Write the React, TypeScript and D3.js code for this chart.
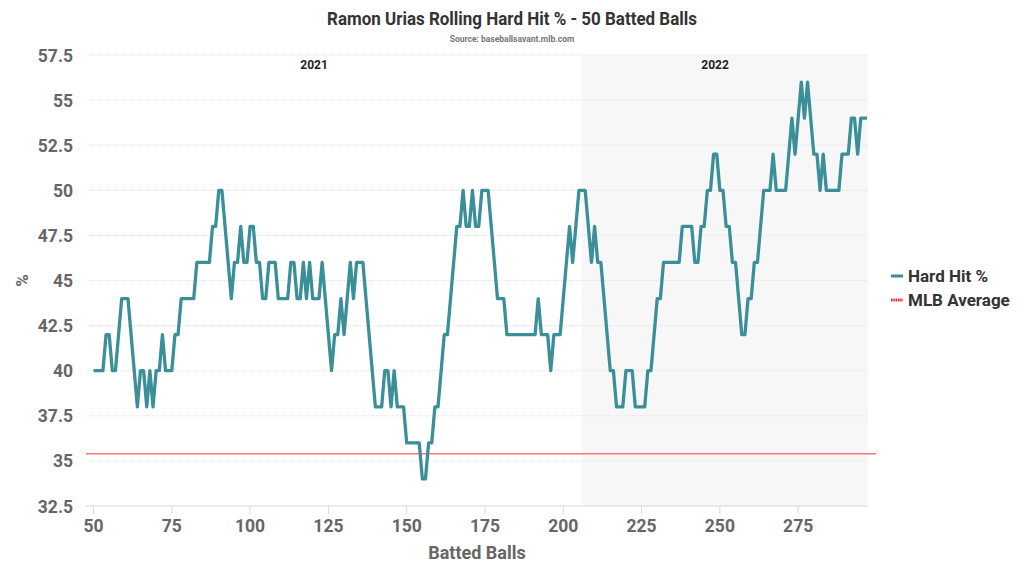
import * as d3 from "d3";

// vertices of the rolling 50-ball hard-hit line (batted ball #, %)
const battedBalls = [
  50, 53, 54, 55, 56, 57, 59, 61, 64, 65, 66, 67, 68, 69, 70, 71, 72, 73, 75, 76,
  77, 78, 82, 83, 87, 88, 89, 90, 91, 94, 95, 96, 97, 98, 99, 100, 101, 102, 103, 104,
  105, 106, 108, 109, 112, 113, 114, 115, 116, 117, 118, 119, 120, 122, 123, 126, 127, 128, 129, 130,
  132, 133, 134, 136, 140, 142, 143, 144, 145, 146, 147, 149, 150, 154, 155, 156, 157, 158, 159, 160,
  162, 163, 166, 167, 168, 169, 170, 171, 172, 173, 174, 176, 179, 181, 182, 191, 192, 193, 195, 196,
  197, 199, 202, 203, 205, 207, 209, 210, 211, 212, 215, 216, 217, 219, 220, 222, 223, 226, 227, 228,
  230, 231, 232, 237, 238, 241, 242, 243, 244, 245, 246, 247, 248, 249, 250, 251, 252, 253, 254, 255,
  257, 258, 259, 260, 261, 262, 264, 266, 267, 268, 271, 273, 274, 276, 277, 278, 280, 281, 282, 283,
  284, 288, 289, 291, 292, 293, 294, 295, 297,
];
const hardHitPct = [
  40, 40, 42, 42, 40, 40, 44, 44, 38, 40, 40, 38, 40, 38, 40, 40, 42, 40, 40, 42,
  42, 44, 44, 46, 46, 48, 48, 50, 50, 44, 46, 46, 48, 46, 46, 48, 48, 46, 46, 44,
  44, 46, 46, 44, 44, 46, 46, 44, 44, 46, 44, 46, 44, 44, 46, 40, 42, 42, 44, 42,
  46, 44, 46, 46, 38, 38, 40, 40, 38, 40, 38, 38, 36, 36, 34, 34, 36, 36, 38, 38,
  42, 42, 48, 48, 50, 48, 48, 50, 48, 48, 50, 50, 44, 44, 42, 42, 44, 42, 42, 40,
  42, 42, 48, 46, 50, 50, 46, 48, 46, 46, 40, 40, 38, 38, 40, 40, 38, 38, 40, 40,
  44, 44, 46, 46, 48, 48, 46, 46, 48, 48, 50, 50, 52, 52, 50, 50, 48, 48, 46, 46,
  42, 42, 44, 44, 46, 46, 50, 50, 52, 50, 50, 54, 52, 56, 54, 56, 52, 52, 50, 52,
  50, 50, 52, 52, 54, 54, 52, 54, 54,
];

const mlbAverage = 35.4;
const seasonStart2022 = 206;
const seasons = ["2021", "2022"];
const yTicks = [32.5, 35, 37.5, 40, 42.5, 45, 47.5, 50, 52.5, 55, 57.5];
const xTicks = [50, 75, 100, 125, 150, 175, 200, 225, 250, 275];
const legendItems = ["Hard Hit %", "MLB Average"];

const TEAL = "#3a8f98";
const RED = "#f47a7a";
const FONT = "Roboto, 'Noto Sans', sans-serif";

export default function App() {
  const width = 1024;
  const height = 576;
  const left = 86;
  const right = 868;
  const top = 55;
  const bottom = 506;

  const x = d3.scaleLinear().domain([47.6, 297.3]).range([left, right]);
  const y = d3.scaleLinear().domain([32.5, 57.5]).range([bottom, top]);

  const pts = battedBalls.map((b, i) => [b, hardHitPct[i]] as [number, number]);
  const line = d3
    .line<[number, number]>()
    .x((d) => x(d[0]))
    .y((d) => y(d[1]));

  const x2022 = x(seasonStart2022);

  return (
    <svg
      width={width}
      height={height}
      style={{ position: "absolute", left: 0, top: 0, background: "#fff" }}
      fontFamily={FONT}
    >
      {/* title */}
      <text x={512} y={25} textAnchor="middle" fontSize={17.5} fontWeight={700} fill="#333" textLength={370} lengthAdjust="spacingAndGlyphs">
        Ramon Urias Rolling Hard Hit % - 50 Batted Balls
      </text>
      <text x={512} y={42} textAnchor="middle" fontSize={8.5} fontWeight={700} fill="#777">
        Source: baseballsavant.mlb.com
      </text>

      {/* 2022 shading */}
      <rect x={x2022} y={top} width={right - x2022} height={bottom - top} fill="#f7f7f7" />

      {/* grid */}
      {yTicks.map((t) => (
        <line
          key={t}
          x1={left}
          x2={right}
          y1={y(t)}
          y2={y(t)}
          stroke={t === 32.5 ? "#d5dcdc" : "#e2e2e2"}
          strokeWidth={1}
          strokeDasharray={t === 32.5 ? undefined : "1 1"}
        />
      ))}

      {/* season labels */}
      {seasons.map((s, i) => {
        const cx = i === 0 ? (left + x2022) / 2 - 20 : (x2022 + right) / 2 - 10;
        return (
          <text key={s} x={cx} y={69} textAnchor="middle" fontSize={12} fontWeight={700} fill="#222">
            {s}
          </text>
        );
      })}

      {/* y ticks */}
      {yTicks.map((t) => (
        <text key={t} x={73} y={y(t) + 6.5} textAnchor="end" fontSize={17.5} fontWeight={700} fill="#666">
          {t}
        </text>
      ))}

      {/* x ticks */}
      {xTicks.map((t) => (
        <g key={t} transform={`translate(${x(t)},0)`}>
          <line y1={bottom} y2={bottom + 8} stroke="#d5dcdc" />
          <text y={bottom + 26} textAnchor="middle" fontSize={17.5} fontWeight={700} fill="#666">
            {t}
          </text>
        </g>
      ))}

      {/* axis titles */}
      <text x={(left + right) / 2} y={559} textAnchor="middle" fontSize={18} fontWeight={700} fill="#666">
        Batted Balls
      </text>
      <text transform={`translate(28,${(top + bottom) / 2}) rotate(-90)`} textAnchor="middle" fontSize={17} fontWeight={700} fill="#666">
        %
      </text>

      {/* MLB average */}
      <line x1={left} x2={right + 8} y1={y(mlbAverage)} y2={y(mlbAverage)} stroke={RED} strokeWidth={1.5} />

      {/* rolling line */}
      <path d={line(pts) ?? ""} fill="none" stroke={TEAL} strokeWidth={3.3} strokeLinejoin="round" />

      {/* legend */}
      {legendItems.map((lab, i) => (
        <g key={lab} transform={`translate(891,${276 + i * 24})`}>
          <line
            x1={0}
            x2={12}
            y1={0}
            y2={0}
            stroke={i === 0 ? TEAL : "#ff2020"}
            strokeWidth={3}
            strokeDasharray={i === 0 ? undefined : "1.5 0.8"}
          />
          <text x={17} y={6} fontSize={17} fontWeight={700} fill="#333">
            {lab}
          </text>
        </g>
      ))}
    </svg>
  );
}
